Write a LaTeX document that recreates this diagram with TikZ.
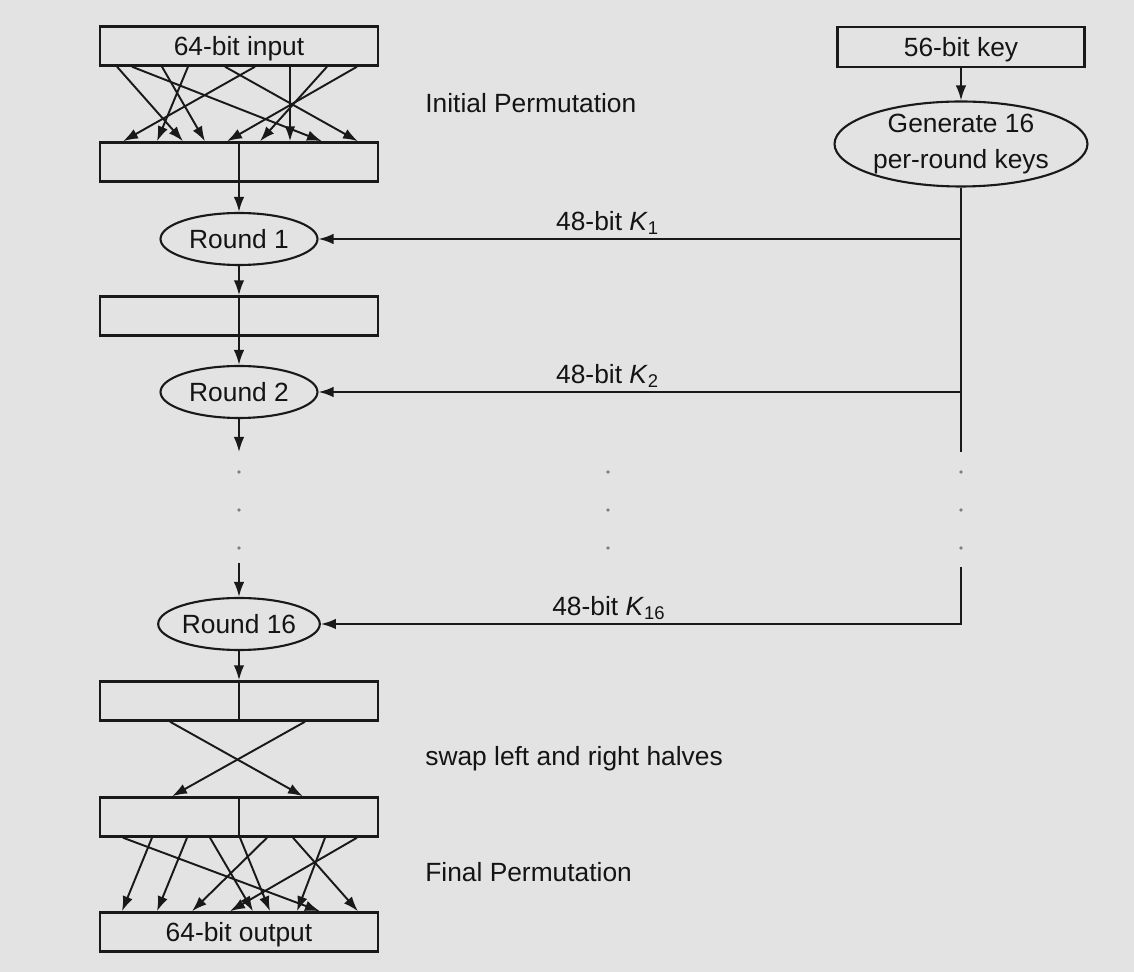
\documentclass[tikz,border=0pt]{standalone}
\usepackage{fontspec}
\setmainfont{Liberation Sans}
\usetikzlibrary{arrows.meta,shapes.geometric}

\definecolor{bg}{RGB}{227,227,227}
\definecolor{ink}{RGB}{25,25,25}

\tikzset{
	box/.style={draw=ink, line width=1.4pt, minimum width=5.56cm, minimum height=0.78cm, inner sep=0pt, text height=10.8pt, text depth=0pt},
	roundnode/.style={ellipse, draw=ink, line width=1.2pt, minimum width=3.14cm, minimum height=1.04cm, inner sep=0pt},
	wire/.style={draw=ink, line width=1.1pt},
	sidenote/.style={anchor=base west, inner sep=0pt},
	keylabel/.style={above=2pt, inner sep=0pt},
}

\begin{document}
\begin{tikzpicture}[x=0.02cm, y=-0.02cm, >={Latex[length=3mm,width=2.1mm]},
	every node/.style={font=\fontsize{15}{20}\selectfont, text=black!92}]
	\fill[bg] (0,0) rectangle (1134,972);
	% data path
	\node[box] (in) at (239,46) {64-bit input};
	\node[box] (ip) at (239,162) {};
	\node[roundnode] (r1) at (239,239) {Round 1};
	\node[box] (mid) at (239,316) {};
	\node[roundnode] (r2) at (239,392) {Round 2};
	\node[roundnode] (r16) at (239,624) {Round 16};
	\node[box] (sw1) at (239,701) {};
	\node[box] (sw2) at (239,817) {};
	\node[box] (out) at (239,932) {64-bit output};
	% key schedule
	\node[box, minimum width=4.94cm, minimum height=0.8cm] (key) at (961,47) {56-bit key};
	\node[roundnode, minimum width=5.06cm, minimum height=1.7cm, align=center] (gen) at (961,144) {Generate 16\\per-round keys};
	\coordinate (kbreak) at (961,452);
	\coordinate (kresume) at (961,567);
	\coordinate (lbreak) at (239,452);
	\coordinate (lresume) at (239,563);

	\node[sidenote] (ipnote) at (425,113) {Initial Permutation};
	\node[sidenote] (swnote) at (425,766) {swap left and right halves};
	\node[sidenote] (fpnote) at (425,882) {Final Permutation};

	% initial permutation
	\foreach \a/\b in {117/183, 132/322, 162/205, 188/157, 225/358, 255/123, 290/290, 327/260, 357/227}
		\draw[wire,->] (\a,0 |- in.south) -- (\b,0 |- ip.north);
	\draw[wire,->] (ip.north) -- (r1);
	\draw[wire,->] (r1) -- (mid.north);
	\draw[wire,->] (mid.north) -- (r2);
	\draw[wire,->] (r2) -- (lbreak);
	\draw[wire,->] (lresume) -- (r16);
	\draw[wire,->] (r16) -- (sw1.north);
	\draw[wire] (sw1.north) -- (sw1.south);
	\draw[wire] (sw2.north) -- (sw2.south);
	% swap
	\foreach \a/\b in {170/303, 305/172}
		\draw[wire,->] (\a,0 |- sw1.south) -- (\b,0 |- sw2.north);
	% final permutation
	\foreach \a/\b in {123/320, 152/122, 187/157, 210/253, 240/270, 267/192, 293/358, 325/297, 357/230}
		\draw[wire,->] (\a,0 |- sw2.south) -- (\b,0 |- out.north);

	\draw[wire,->] (key) -- (gen);
	\draw[wire] (gen) -- (kbreak);
	\draw[wire,->] (gen.south |- r1) -- (r1) node[keylabel, pos=0.55] {48-bit \textit{K}\textsubscript{1}};
	\draw[wire,->] (gen.south |- r2) -- (r2) node[keylabel, pos=0.55] {48-bit \textit{K}\textsubscript{2}};
	\draw[wire,->] (kresume) |- (r16) node[keylabel, pos=0.775] {48-bit \textit{K}\textsubscript{16}};

	\foreach \y in {472,510,548} {
		\fill[gray] (239,\y) circle (1.1pt);
		\fill[gray] (608,\y) circle (1.1pt);
		\fill[gray] (961,\y) circle (1.1pt);
	}
\end{tikzpicture}
\end{document}
